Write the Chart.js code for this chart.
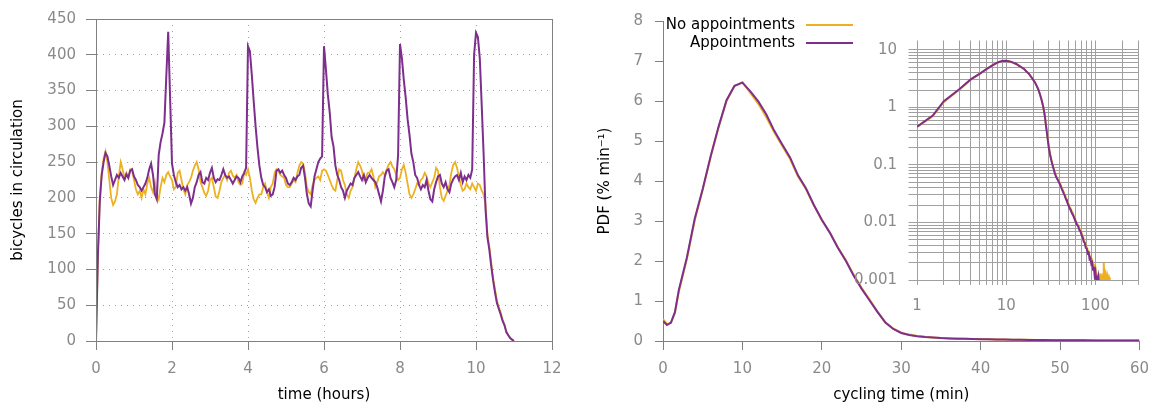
<!DOCTYPE html>
<html>
<head>
<meta charset="utf-8">
<script src="https://cdn.jsdelivr.net/npm/chart.js@4"></script>
<style>
  html, body { margin: 0; padding: 0; background: #fff; }
  #wrap { position: relative; width: 1150px; height: 403px; overflow: hidden; }
  canvas { position: absolute; }
  #circ { left: 0; top: 0; }
  #pdf { left: 575px; top: 0; }
  #pdfLog { left: 850px; top: 20px; }
</style>
</head>
<body>
<div id="wrap">
  <canvas id="circ" width="575" height="403"></canvas>
  <canvas id="pdf" width="584" height="403"></canvas>
  <canvas id="pdfLog" width="300" height="300"></canvas>
</div>
<script>
// bicycles in circulation, one sample every 0.05 h from 0 h to 11 h (one row per hour)
const sampleStepHours = 0.05;
const circNoAppt = [
  0, 120, 200, 235, 255, 265, 250, 225, 200, 190, 195, 205, 230, 250, 240, 228, 235, 228, 240, 238,
  225, 212, 205, 210, 200, 212, 205, 220, 228, 215, 208, 222, 205, 198, 215, 228, 222, 232, 236, 230,
  225, 212, 215, 235, 238, 225, 212, 205, 218, 222, 228, 238, 245, 250, 240, 222, 215, 207, 203, 210,
  225, 228, 215, 202, 200, 210, 222, 228, 232, 225, 235, 238, 231, 228, 232, 222, 218, 220, 235, 232,
  240, 228, 210, 198, 193, 200, 205, 205, 215, 220, 208, 200, 215, 220, 235, 240, 238, 232, 230, 228,
  218, 215, 215, 220, 225, 222, 235, 245, 250, 248, 235, 215, 208, 205, 218, 225, 228, 230, 225, 238,
  240, 238, 232, 225, 218, 212, 210, 225, 240, 238, 225, 218, 205, 200, 210, 215, 228, 240, 250, 245,
  238, 225, 228, 235, 235, 240, 230, 215, 222, 230, 232, 236, 232, 240, 246, 250, 244, 240, 232, 225,
  228, 240, 246, 235, 220, 205, 200, 205, 212, 220, 218, 225, 228, 235, 230, 220, 215, 222, 228, 242,
  238, 215, 200, 196, 203, 210, 218, 235, 246, 250, 242, 230, 218, 210, 212, 220, 215, 212, 220, 215,
  210, 220, 218, 210, 205, 192, 150, 132, 110, 88, 72, 57, 47, 40, 30, 23, 13, 8, 4, 1,
  0
];
const circAppt = [
  0, 120, 195, 232, 250, 263, 258, 245, 230, 218, 225, 232, 228, 235, 230, 225, 233, 228, 238, 240,
  230, 225, 218, 215, 210, 215, 220, 228, 240, 248, 232, 205, 198, 260, 278, 290, 305, 370, 432, 340,
  248, 232, 222, 215, 218, 212, 215, 210, 215, 205, 192, 200, 215, 222, 232, 236, 222, 220, 228, 225,
  235, 242, 228, 222, 226, 225, 232, 240, 232, 228, 230, 225, 220, 225, 230, 228, 222, 230, 235, 242,
  412, 405, 372, 335, 300, 270, 245, 228, 218, 215, 208, 212, 203, 205, 215, 238, 240, 235, 238, 232,
  228, 220, 218, 222, 228, 225, 230, 232, 242, 245, 228, 205, 192, 188, 210, 230, 240, 250, 255, 258,
  412, 380, 345, 320, 285, 272, 245, 232, 225, 215, 210, 200, 210, 215, 220, 218, 228, 232, 236, 230,
  225, 232, 222, 228, 232, 228, 225, 222, 215, 205, 195, 210, 230, 238, 240, 228, 222, 215, 225, 260,
  415, 395, 365, 340, 310, 288, 262, 250, 232, 228, 218, 212, 218, 215, 225, 210, 198, 195, 212, 222,
  230, 232, 220, 215, 222, 212, 208, 220, 226, 230, 232, 225, 235, 222, 230, 225, 232, 228, 240, 400,
  431, 425, 395, 330, 262, 185, 145, 128, 105, 85, 68, 53, 45, 37, 28, 22, 12, 8, 4, 2,
  0
];

// cycling-time distribution, % per minute
const cycleMin = [
  0, 0.5, 1, 1.5, 2, 3, 4, 5, 6, 7, 8, 9, 10, 11, 12, 13, 14, 15, 16, 17, 18, 19, 20,
  21, 22, 23, 24, 25, 26, 27, 28, 29, 30, 31, 32, 33, 34, 35, 36, 37, 38, 39, 40,
  41, 42, 43, 44, 45, 46, 47, 48, 49, 50, 51, 52, 53, 54, 55, 56, 57, 58, 59, 60,
  62, 64, 66, 68, 70, 72, 74, 76, 78, 80, 82, 84, 86, 88, 90, 92, 94, 96, 98, 100,
  102, 104, 106, 108, 110, 112, 114, 116, 118, 120, 122, 124, 126, 128, 130, 132, 134, 136, 138, 140,
  142, 144, 146
];
const pdfNoAppt = [
  0.55, 0.42, 0.45, 0.70, 1.24, 2.04, 3.02, 3.78, 4.60, 5.34, 6.00, 6.37, 6.47, 6.20, 5.93, 5.60, 5.22, 4.88, 4.55, 4.11, 3.80, 3.39, 3.02,
  2.72, 2.35, 2.03, 1.66, 1.33, 1.04, 0.74, 0.47, 0.31, 0.21, 0.16, 0.125, 0.104, 0.088, 0.075, 0.066, 0.060, 0.056, 0.052, 0.048,
  0.044, 0.040, 0.037, 0.034, 0.031, 0.029, 0.026, 0.024, 0.022, 0.021, 0.019, 0.018, 0.017, 0.016, 0.015, 0.014, 0.013, 0.0124, 0.0116, 0.0108,
  0.0096, 0.0089, 0.0079, 0.0073, 0.0066, 0.0057, 0.0051, 0.0045, 0.0040, 0.0037, 0.0033, 0.0030, 0.0027, 0.0025, 0.0021, 0.0022, 0.0017, 0.0019, 0.0014, 0.0016,
  0.0012, 0.0013, 0.0010, 0.0012, 0.0011, 0.0009, 0.0013, 0.0010, 0.0009, 0.0011, 0.0010, 0.0020, 0.0011, 0.0010, 0.0012, 0.0010, 0.0011, 0.0010, 0.0011, 0.0010,
  0.0011, 0.0010, 0.0011
];
const pdfAppt = [
  0.50, 0.40, 0.46, 0.72, 1.28, 2.08, 3.06, 3.80, 4.62, 5.36, 6.02, 6.38, 6.46, 6.24, 5.99, 5.67, 5.26, 4.92, 4.59, 4.14, 3.82, 3.40, 3.03,
  2.71, 2.34, 2.01, 1.64, 1.31, 1.02, 0.73, 0.46, 0.30, 0.20, 0.15, 0.12, 0.10, 0.085, 0.072, 0.064, 0.058, 0.054, 0.050, 0.046,
  0.042, 0.038, 0.035, 0.032, 0.030, 0.027, 0.025, 0.023, 0.021, 0.020, 0.018, 0.017, 0.016, 0.015, 0.014, 0.0135, 0.0126, 0.0118, 0.0110, 0.0104,
  0.0092, 0.0086, 0.0074, 0.0070, 0.0060, 0.0055, 0.0046, 0.0044, 0.0036, 0.0035, 0.0029, 0.0030, 0.0023, 0.0024, 0.0019, 0.0020, 0.0015, 0.0017, 0.0012, 0.0014,
  0.0010, 0.0012, 0.0009, 0.0011, 0.0008, null, null, null, null, null, null, null, null, null, null, null, null, null, null, null,
  null, null, null
];

// grid of the log-log inset
const logTimeTicks = [1, 2, 3, 4, 5, 6, 7, 8, 9, 10, 20, 30, 40, 50, 60, 70, 80, 90, 100, 200, 300];
const logTimeLabels = [1, 10, 100];
const logPdfTicks = [
  0.001, 0.002, 0.003, 0.004, 0.005, 0.006, 0.007, 0.008, 0.009,
  0.01, 0.02, 0.03, 0.04, 0.05, 0.06, 0.07, 0.08, 0.09,
  0.1, 0.2, 0.3, 0.4, 0.5, 0.6, 0.7, 0.8, 0.9,
  1, 2, 3, 4, 5, 6, 7, 8, 9, 10
];
const logPdfLabels = [0.001, 0.01, 0.1, 1, 10];

const seriesNames = ['No appointments', 'Appointments'];
const YELLOW = '#EDB120';
const PURPLE = '#7E2F8E';
const AXIS = '#808080';
const LABEL = '#8a8a8a';
const FONT = '"DejaVu Sans", sans-serif';

Chart.defaults.font.family = FONT;
Chart.defaults.font.size = 15;
Chart.defaults.animation = false;
Chart.defaults.responsive = false;
Chart.defaults.plugins.legend.display = false;
Chart.defaults.plugins.tooltip.enabled = false;
Chart.defaults.elements.point.radius = 0;
Chart.defaults.elements.line.tension = 0;

const pairs = (xs, ys) => ys.map((y, i) => ({ x: xs[i], y }));
const hours = circAppt.map((_, i) => +(i * sampleStepHours).toFixed(2));

// full box round the plot area
const frame = {
  id: 'frame',
  afterDraw(chart) {
    const { ctx, chartArea: a } = chart;
    ctx.save();
    ctx.strokeStyle = AXIS;
    ctx.lineWidth = 1;
    ctx.strokeRect(a.left + 0.5, a.top + 0.5, a.right - a.left, a.bottom - a.top);
    ctx.restore();
  }
};

// gnuplot-style key: text on the left, line sample on the right
const curveKey = {
  id: 'curveKey',
  afterDraw(chart) {
    const ctx = chart.ctx;
    ctx.save();
    ctx.font = '15px ' + FONT;
    ctx.textAlign = 'right';
    ctx.textBaseline = 'middle';
    const rows = [[seriesNames[0], YELLOW, 25], [seriesNames[1], PURPLE, 43]];
    rows.forEach(([name, color, y]) => {
      ctx.fillStyle = '#000';
      ctx.fillText(name, 220, y);
      ctx.strokeStyle = color;
      ctx.lineWidth = 2;
      ctx.beginPath();
      ctx.moveTo(231, y);
      ctx.lineTo(278, y);
      ctx.stroke();
    });
    ctx.restore();
  }
};

new Chart(document.getElementById('circ'), {
  type: 'line',
  data: {
    datasets: [
      { label: seriesNames[0], data: pairs(hours, circNoAppt), borderColor: YELLOW, borderWidth: 1.8, order: 1 },
      { label: seriesNames[1], data: pairs(hours, circAppt), borderColor: PURPLE, borderWidth: 2, order: 0 }
    ]
  },
  options: {
    layout: { padding: { top: 16, right: 23, left: 0, bottom: 0 } },
    scales: {
      x: {
        type: 'linear', min: 0, max: 12,
        afterFit: s => { s.height = 62; },
        ticks: { stepSize: 2, color: LABEL, padding: 10, maxRotation: 0 },
        grid: { color: '#a0a0a0', tickColor: AXIS, tickLength: 9 },
        border: { color: AXIS, dash: [1, 5] },
        title: { display: true, text: 'time (hours)', color: '#000', font: { size: 15, lineHeight: 1 }, padding: { top: 0, bottom: 0 } }
      },
      y: {
        min: 0, max: 450,
        afterFit: s => { s.width = 96; },
        ticks: { stepSize: 50, color: LABEL, padding: 10 },
        grid: { color: '#a0a0a0', tickColor: AXIS, tickLength: 10 },
        border: { color: AXIS, dash: [1, 5] },
        title: { display: true, text: 'bicycles in circulation', color: '#000', font: { size: 15, lineHeight: 1 }, padding: { top: 10.5, bottom: 0 } }
      }
    }
  },
  plugins: [frame]
});

new Chart(document.getElementById('pdf'), {
  type: 'line',
  data: {
    datasets: [
      { label: seriesNames[0], data: pairs(cycleMin, pdfNoAppt), borderColor: YELLOW, borderWidth: 2, order: 1 },
      { label: seriesNames[1], data: pairs(cycleMin, pdfAppt), borderColor: PURPLE, borderWidth: 2, order: 0 }
    ]
  },
  options: {
    layout: { padding: { top: 16, right: 10, left: 0, bottom: 0 } },
    scales: {
      x: {
        type: 'linear', min: 0, max: 60,
        afterFit: s => { s.height = 62; },
        ticks: { stepSize: 10, color: LABEL, padding: 10, maxRotation: 0 },
        grid: { drawOnChartArea: false, color: AXIS, tickLength: 9 },
        border: { color: AXIS },
        title: { display: true, text: 'cycling time (min)', color: '#000', font: { size: 15, lineHeight: 1 }, padding: { top: 0, bottom: 0 } }
      },
      y: {
        min: 0, max: 8,
        afterFit: s => { s.width = 88; },
        ticks: { stepSize: 1, color: LABEL, padding: 12 },
        grid: { drawOnChartArea: false, color: AXIS, tickLength: 8 },
        border: { color: AXIS },
        title: { display: true, text: 'PDF (% min⁻¹)', color: '#000', font: { size: 15, lineHeight: 1 }, padding: { top: 22.5, bottom: 0 } }
      }
    }
  },
  plugins: [curveKey]
});

const logPairs = (xs, ys) => pairs(xs, ys).filter(p => p.x >= 1);

new Chart(document.getElementById('pdfLog'), {
  type: 'line',
  data: {
    datasets: [
      { label: seriesNames[0], data: logPairs(cycleMin, pdfNoAppt), borderColor: YELLOW, borderWidth: 2, order: 1 },
      { label: seriesNames[1], data: logPairs(cycleMin, pdfAppt), borderColor: PURPLE, borderWidth: 2, order: 0 }
    ]
  },
  options: {
    layout: { padding: { top: 17, right: 10, left: 0, bottom: 0 } },
    scales: {
      x: {
        type: 'logarithmic', min: 1, max: 300,
        afterFit: s => { s.height = 40; },
        afterBuildTicks: s => { s.ticks = logTimeTicks.map(v => ({ value: v })); },
        ticks: { autoSkip: false, maxRotation: 0, color: LABEL, padding: 12,
                 callback: v => logTimeLabels.includes(v) ? String(v) : '' },
        grid: { color: '#a0a0a0', tickLength: 5 },
        border: { display: false }
      },
      y: {
        type: 'logarithmic', min: 0.001, max: 14.5,
        afterFit: s => { s.width = 67; },
        afterBuildTicks: s => { s.ticks = logPdfTicks.map(v => ({ value: v })); },
        ticks: { autoSkip: false, color: LABEL, padding: 11.5,
                 callback: v => logPdfLabels.includes(v) ? String(v) : '' },
        grid: { color: '#a0a0a0', tickLength: 8.5 },
        border: { display: false }
      }
    }
  }
});
</script>
</body>
</html>
